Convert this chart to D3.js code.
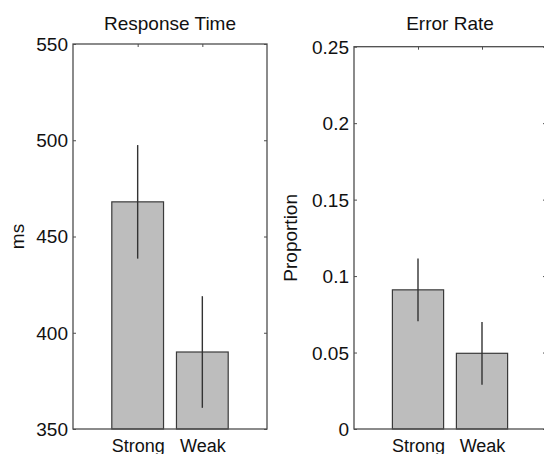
<!DOCTYPE html>
<html>
<head>
<meta charset="utf-8">
<script src="https://cdn.jsdelivr.net/npm/d3@7"></script>
<style>
	body { margin: 0; background: #fff; }
	svg text { font-family: "Liberation Sans", Arial, sans-serif; fill: #111; }
</style>
</head>
<body>
<script>
// data
var categories = ["Strong", "Weak"]

var rtMean = [468, 390]
var rtErr = [29.5, 29]
var rtTicks = [350, 400, 450, 500, 550]

var erMean = [0.091, 0.0495]
var erErr = [0.0205, 0.0205]
var erTicks = [0, 0.05, 0.1, 0.15, 0.2, 0.25]

var fontSize = 19

var svg = d3.select("body")
	.append("svg")
	.attr("width", 544)
	.attr("height", 454)

function panel(opts) {
	var x = d3.scaleLinear().domain([0, 3]).range([opts.left, opts.right])
	var y = d3.scaleLinear().domain(opts.domain).range([429, opts.top])
	var g = svg.append("g")
	var barW = 0.8

	// bars
	g.selectAll("rect.bar")
		.data(opts.mean)
		.enter().append("rect")
		.attr("class", "bar")
		.attr("x", function(d, i) { return x(i + 1 - barW / 2) })
		.attr("width", function() { return x(barW) - x(0) })
		.attr("y", function(d) { return y(d) })
		.attr("height", function(d) { return y(opts.domain[0]) - y(d) })
		.attr("fill", "#bdbdbd")
		.attr("stroke", "#3a3a3a")
		.attr("stroke-width", 1.2)

	// error bars
	g.selectAll("line.err")
		.data(opts.mean)
		.enter().append("line")
		.attr("class", "err")
		.attr("x1", function(d, i) { return x(i + 1) })
		.attr("x2", function(d, i) { return x(i + 1) })
		.attr("y1", function(d, i) { return y(d - opts.err[i]) })
		.attr("y2", function(d, i) { return y(d + opts.err[i]) })
		.attr("stroke", "#333")
		.attr("stroke-width", 1.4)

	// frame
	g.append("rect")
		.attr("x", opts.left)
		.attr("y", opts.top)
		.attr("width", opts.right - opts.left)
		.attr("height", 429 - opts.top)
		.attr("fill", "none")
		.attr("stroke", "#4d4d4d")
		.attr("stroke-width", 1.3)

	var left = g.append("g")
		.attr("transform", "translate(" + opts.left + ",0)")
		.call(d3.axisLeft(y).tickValues(opts.ticks).tickFormat(function(d) { return String(d) }).tickSize(-3).tickPadding(5))
	var right = g.append("g")
		.attr("transform", "translate(" + opts.right + ",0)")
		.call(d3.axisRight(y).tickValues(opts.ticks).tickFormat("").tickSize(-3))
	var top = g.append("g")
		.attr("transform", "translate(0," + opts.top + ")")
		.call(d3.axisTop(x).tickValues([1, 2]).tickFormat("").tickSize(-3))
	var bottom = g.append("g")
		.attr("transform", "translate(0,429)")
		.call(d3.axisBottom(x).tickValues([1, 2]).tickFormat(function(d) { return categories[d - 1] }).tickSize(0))

	;[left, right, top, bottom].forEach(function(a) {
		a.select(".domain").remove()
		a.selectAll("line").attr("stroke", "#4d4d4d")
		a.selectAll("text")
			.attr("font-family", null)
			.style("font-size", fontSize + "px")
			.attr("fill", "#111")
	})
	left.selectAll("text").attr("dy", "0.34em")
	bottom.selectAll("text").attr("y", 22.5).attr("dy", 0).style("font-size", "18px")

	// title
	g.append("text")
		.attr("x", (opts.left + opts.right) / 2)
		.attr("y", 30)
		.attr("text-anchor", "middle")
		.style("font-size", fontSize + "px")
		.text(opts.title)

	// y label
	g.append("text")
		.attr("transform", "translate(" + opts.labelX + "," + (opts.top + 429) / 2 + ") rotate(-90)")
		.attr("text-anchor", "middle")
		.style("font-size", fontSize + "px")
		.text(opts.label)
}

panel({
	left: 73, right: 267, top: 44,
	domain: [350, 550], ticks: rtTicks,
	mean: rtMean, err: rtErr,
	title: "Response Time", label: "ms", labelX: 23.5
})

panel({
	left: 354, right: 546, top: 46.7,
	domain: [0, 0.25], ticks: erTicks,
	mean: erMean, err: erErr,
	title: "Error Rate", label: "Proportion", labelX: 296.5
})
</script>
</body>
</html>
